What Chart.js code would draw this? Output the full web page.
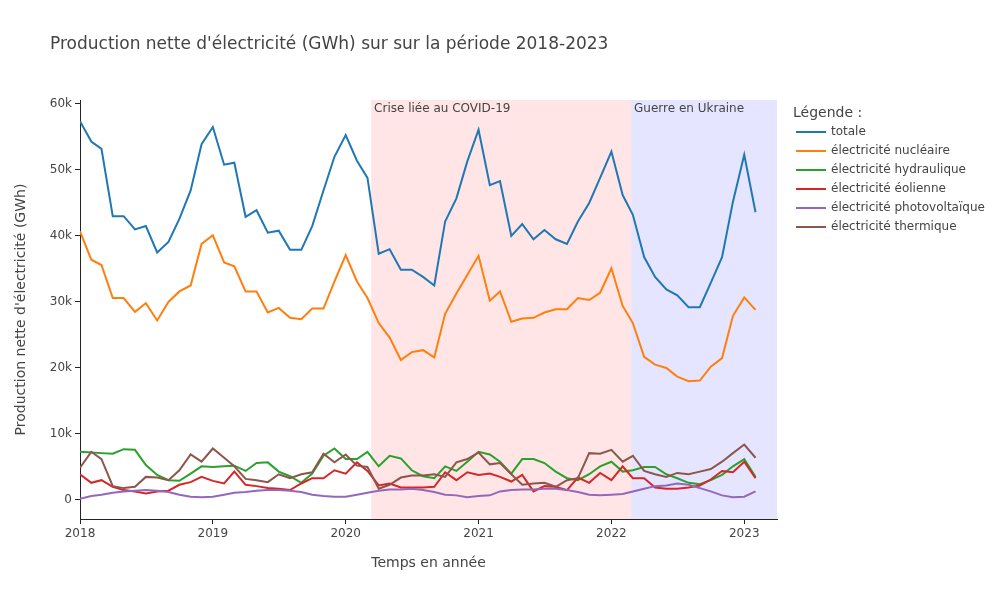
<!DOCTYPE html>
<html>
<head>
<meta charset="utf-8">
<script src="https://cdn.jsdelivr.net/npm/chart.js@4.4.1/dist/chart.umd.min.js"></script>
<style>
  html, body { margin: 0; padding: 0; background: #fff; }
  #wrap { width: 1000px; height: 600px; }
</style>
</head>
<body>
<div id="wrap"><canvas id="c" width="1000" height="600"></canvas></div>
<script>
// ---- DATA (GWh, in thousands) ----
const months = [
  '2018-01','2018-02','2018-03','2018-04','2018-05','2018-06','2018-07','2018-08','2018-09','2018-10','2018-11','2018-12',
  '2019-01','2019-02','2019-03','2019-04','2019-05','2019-06','2019-07','2019-08','2019-09','2019-10','2019-11','2019-12',
  '2020-01','2020-02','2020-03','2020-04','2020-05','2020-06','2020-07','2020-08','2020-09','2020-10','2020-11','2020-12',
  '2021-01','2021-02','2021-03','2021-04','2021-05','2021-06','2021-07','2021-08','2021-09','2021-10','2021-11','2021-12',
  '2022-01','2022-02','2022-03','2022-04','2022-05','2022-06','2022-07','2022-08','2022-09','2022-10','2022-11','2022-12',
  '2023-01','2023-02'
];
const totale = [
  57.4, 54.3, 53.2, 43.0, 43.0, 41.0, 41.5, 37.5, 39.1, 42.6, 46.9, 53.9,
  56.5, 50.8, 51.1, 42.9, 43.9, 40.5, 40.8, 37.9, 37.9, 41.5, 46.9, 52.0,
  55.3, 51.4, 48.8, 37.3, 38.0, 34.9, 34.9, 33.8, 32.5, 42.2, 45.7, 51.3,
  56.1, 47.7, 48.3, 40.0, 41.8, 39.5, 40.9, 39.5, 38.8, 42.2, 45.0, 48.8,
  52.8, 46.2, 43.2, 36.8, 33.8, 31.9, 31.0, 29.2, 29.2, 32.9, 36.8, 45.2,
  52.3, 43.6
];
const nucleaire = [
  40.7, 36.4, 35.6, 30.6, 30.6, 28.5, 29.8, 27.2, 30.0, 31.6, 32.5, 38.8,
  40.1, 36.0, 35.4, 31.6, 31.6, 28.4, 29.1, 27.6, 27.4, 29.0, 29.0, 33.1,
  37.1, 33.1, 30.6, 26.8, 24.6, 21.2, 22.4, 22.7, 21.6, 28.2, 31.3, 34.1,
  37.0, 30.2, 31.6, 27.0, 27.5, 27.6, 28.4, 28.9, 28.9, 30.6, 30.3, 31.4,
  35.1, 29.4, 26.8, 21.7, 20.5, 20.0, 18.7, 18.0, 18.1, 20.2, 21.5, 27.9,
  30.7, 28.8
];
const hydraulique = [
  7.3, 7.2, 7.1, 7.0, 7.7, 7.6, 5.3, 3.8, 3.0, 2.9, 4.0, 5.1,
  5.0, 5.1, 5.2, 4.4, 5.6, 5.7, 4.3, 3.6, 2.6, 4.0, 6.7, 7.8,
  6.2, 6.2, 7.3, 5.1, 6.7, 6.3, 4.5, 3.6, 3.3, 5.1, 4.4, 5.8,
  7.3, 6.9, 5.8, 4.0, 6.2, 6.2, 5.6, 4.3, 3.3, 3.0, 3.9, 5.1,
  5.8, 4.3, 4.5, 5.0, 5.0, 3.9, 3.3, 2.6, 2.4, 3.0, 3.8, 5.1,
  6.2, 3.5
];
const eolienne = [
  3.9, 2.6, 3.0, 2.0, 1.5, 1.3, 1.0, 1.3, 1.4, 2.3, 2.7, 3.5,
  2.9, 2.5, 4.3, 2.3, 2.1, 1.8, 1.7, 1.5, 2.5, 3.3, 3.3, 4.5,
  4.0, 5.7, 4.4, 2.2, 2.5, 1.9, 1.9, 1.9, 2.0, 4.2, 3.0, 4.2,
  3.8, 4.0, 3.5, 2.8, 3.8, 1.3, 2.1, 2.0, 1.5, 3.4, 2.6, 4.1,
  3.0, 5.1, 3.3, 3.3, 1.9, 1.7, 1.7, 1.9, 2.2, 3.1, 4.4, 4.2,
  5.8, 3.3
];
const photovoltaique = [
  0.2, 0.6, 0.8, 1.1, 1.3, 1.4, 1.5, 1.4, 1.2, 0.8, 0.5, 0.4,
  0.5, 0.8, 1.1, 1.2, 1.4, 1.5, 1.5, 1.4, 1.2, 0.8, 0.6, 0.5,
  0.5, 0.8, 1.1, 1.4, 1.6, 1.6, 1.7, 1.5, 1.2, 0.8, 0.7, 0.4,
  0.6, 0.7, 1.3, 1.5, 1.6, 1.6, 1.7, 1.7, 1.5, 1.2, 0.8, 0.7,
  0.8, 0.9, 1.3, 1.7, 2.1, 2.2, 2.5, 2.3, 1.8, 1.3, 0.7, 0.4,
  0.5, 1.3
];
const thermique = [
  4.9, 7.3, 6.2, 2.1, 1.8, 2.0, 3.5, 3.4, 3.0, 4.5, 6.9, 5.8,
  7.8, 6.4, 5.1, 3.2, 3.0, 2.7, 3.9, 3.3, 3.9, 4.2, 7.0, 5.7,
  6.9, 5.2, 5.0, 1.7, 2.3, 3.4, 3.7, 3.7, 3.9, 3.5, 5.7, 6.2,
  7.2, 5.4, 5.6, 3.9, 2.3, 2.5, 2.6, 2.0, 3.0, 3.3, 7.1, 7.0,
  7.6, 5.8, 6.7, 4.4, 3.9, 3.5, 4.1, 3.9, 4.3, 4.7, 5.8, 7.1,
  8.4, 6.4
];
const seriesLabels = ['totale','électricité nucléaire','électricité hydraulique','électricité éolienne','électricité photovoltaïque','électricité thermique'];
const seriesValues = [totale, nucleaire, hydraulique, eolienne, photovoltaique, thermique];
const seriesColors = ['#1f77b4','#ff7f0e','#2ca02c','#d62728','#9467bd','#8c564b'];
const xTickYears = [2018, 2019, 2020, 2021, 2022, 2023];
const yTickValues = [0, 10000, 20000, 30000, 40000, 50000, 60000];
const periodLabels = ['Crise liée au COVID-19', 'Guerre en Ukraine'];
const periodStarts = ['2020-03-11', '2022-02-24'];
const periodEnds = ['2022-02-24', '2023-04-01'];

// ---- helpers ----
function dateToYear(s) {
  const p = s.split('-').map(Number);
  const y = p[0], m = p[1], d = p[2] || 1;
  const start = Date.UTC(y, 0, 1), end = Date.UTC(y + 1, 0, 1);
  return y + (Date.UTC(y, m - 1, d) - start) / (end - start);
}
const FONT = "'DejaVu Sans', Verdana, sans-serif";
const TXT = '#444';
const AXIS = '#242424';

const datasets = seriesLabels.map((lab, i) => ({
  label: lab,
  data: months.map((m, j) => ({ x: dateToYear(m), y: seriesValues[i][j] * 1000 })),
  borderColor: seriesColors[i],
  backgroundColor: seriesColors[i],
  borderWidth: 2,
  pointRadius: 0,
  tension: 0,
  fill: false,
  order: seriesLabels.length - i
}));

const overlay = {
  id: 'overlay',
  beforeDatasetsDraw(chart) {
    const { ctx, chartArea: a, scales: { x } } = chart;
    const fills = ['rgba(255,0,0,0.1)', 'rgba(0,0,255,0.1)'];
    ctx.save();
    periodLabels.forEach((lab, i) => {
      const x0 = Math.max(a.left, x.getPixelForValue(dateToYear(periodStarts[i])));
      const x1 = Math.min(a.right, x.getPixelForValue(dateToYear(periodEnds[i])));
      ctx.fillStyle = fills[i];
      ctx.fillRect(x0, a.top, x1 - x0, a.bottom - a.top);
      ctx.fillStyle = TXT;
      ctx.font = '12px ' + FONT;
      ctx.textBaseline = 'middle';
      ctx.textAlign = 'left';
      ctx.fillText(lab, x0 + 3, a.top + 9);
    });
    ctx.restore();
  },
  afterDraw(chart) {
    const { ctx, chartArea: a } = chart;
    ctx.save();
    ctx.fillStyle = TXT;
    ctx.textBaseline = 'middle';
    // title
    ctx.font = '17px ' + FONT;
    ctx.textAlign = 'left';
    ctx.fillText("Production nette d'électricité (GWh) sur sur la période 2018-2023", 50, 45);
    // x axis title
    ctx.font = '14px ' + FONT;
    ctx.textAlign = 'center';
    ctx.fillText('Temps en année', (a.left + a.right) / 2, 563);
    // y axis title
    ctx.save();
    ctx.translate(21, (a.top + a.bottom) / 2);
    ctx.rotate(-Math.PI / 2);
    ctx.fillText("Production nette d'électricité (GWh)", 0, 0);
    ctx.restore();
    // legend
    ctx.textAlign = 'left';
    ctx.font = '14px ' + FONT;
    ctx.fillText('Légende :', 793, 113);
    ctx.font = '12px ' + FONT;
    chart.data.datasets.forEach((ds, i) => {
      const y = 132 + i * 19;
      ctx.strokeStyle = ds.borderColor;
      ctx.lineWidth = 2;
      ctx.beginPath();
      ctx.moveTo(796, y);
      ctx.lineTo(826, y);
      ctx.stroke();
      ctx.fillStyle = TXT;
      ctx.fillText(ds.label, 831, y);
    });
    ctx.restore();
  }
};

new Chart(document.getElementById('c'), {
  type: 'line',
  data: { datasets },
  plugins: [overlay],
  options: {
    responsive: false,
    animation: false,
    devicePixelRatio: 1,
    layout: { padding: { left: 0, top: 100, right: 223, bottom: 0 } },
    scales: {
      x: {
        type: 'linear',
        min: 2018,
        max: dateToYear(periodEnds[1]),
        afterBuildTicks: s => { s.ticks = xTickYears.map(v => ({ value: v })); },
        afterFit: s => { s.height = 81; },
        ticks: { callback: v => String(v), color: TXT, font: { family: FONT, size: 12 }, padding: 3, maxRotation: 0, autoSkip: false },
        grid: { display: true, drawOnChartArea: false, drawTicks: true, tickLength: 5, color: AXIS, tickColor: AXIS },
        border: { display: true, color: AXIS, width: 1 }
      },
      y: {
        type: 'linear',
        min: -2880,
        max: 60600,
        afterBuildTicks: s => { s.ticks = yTickValues.map(v => ({ value: v })); },
        afterFit: s => { s.width = 80; },
        ticks: { callback: v => v === 0 ? '0' : (v / 1000) + 'k', color: TXT, font: { family: FONT, size: 12 }, padding: 3 },
        grid: { display: true, drawOnChartArea: false, drawTicks: true, tickLength: 5, color: AXIS, tickColor: AXIS },
        border: { display: true, color: AXIS, width: 1 }
      }
    },
    plugins: { legend: { display: false }, title: { display: false }, tooltip: { enabled: false } }
  }
});
</script>
</body>
</html>
